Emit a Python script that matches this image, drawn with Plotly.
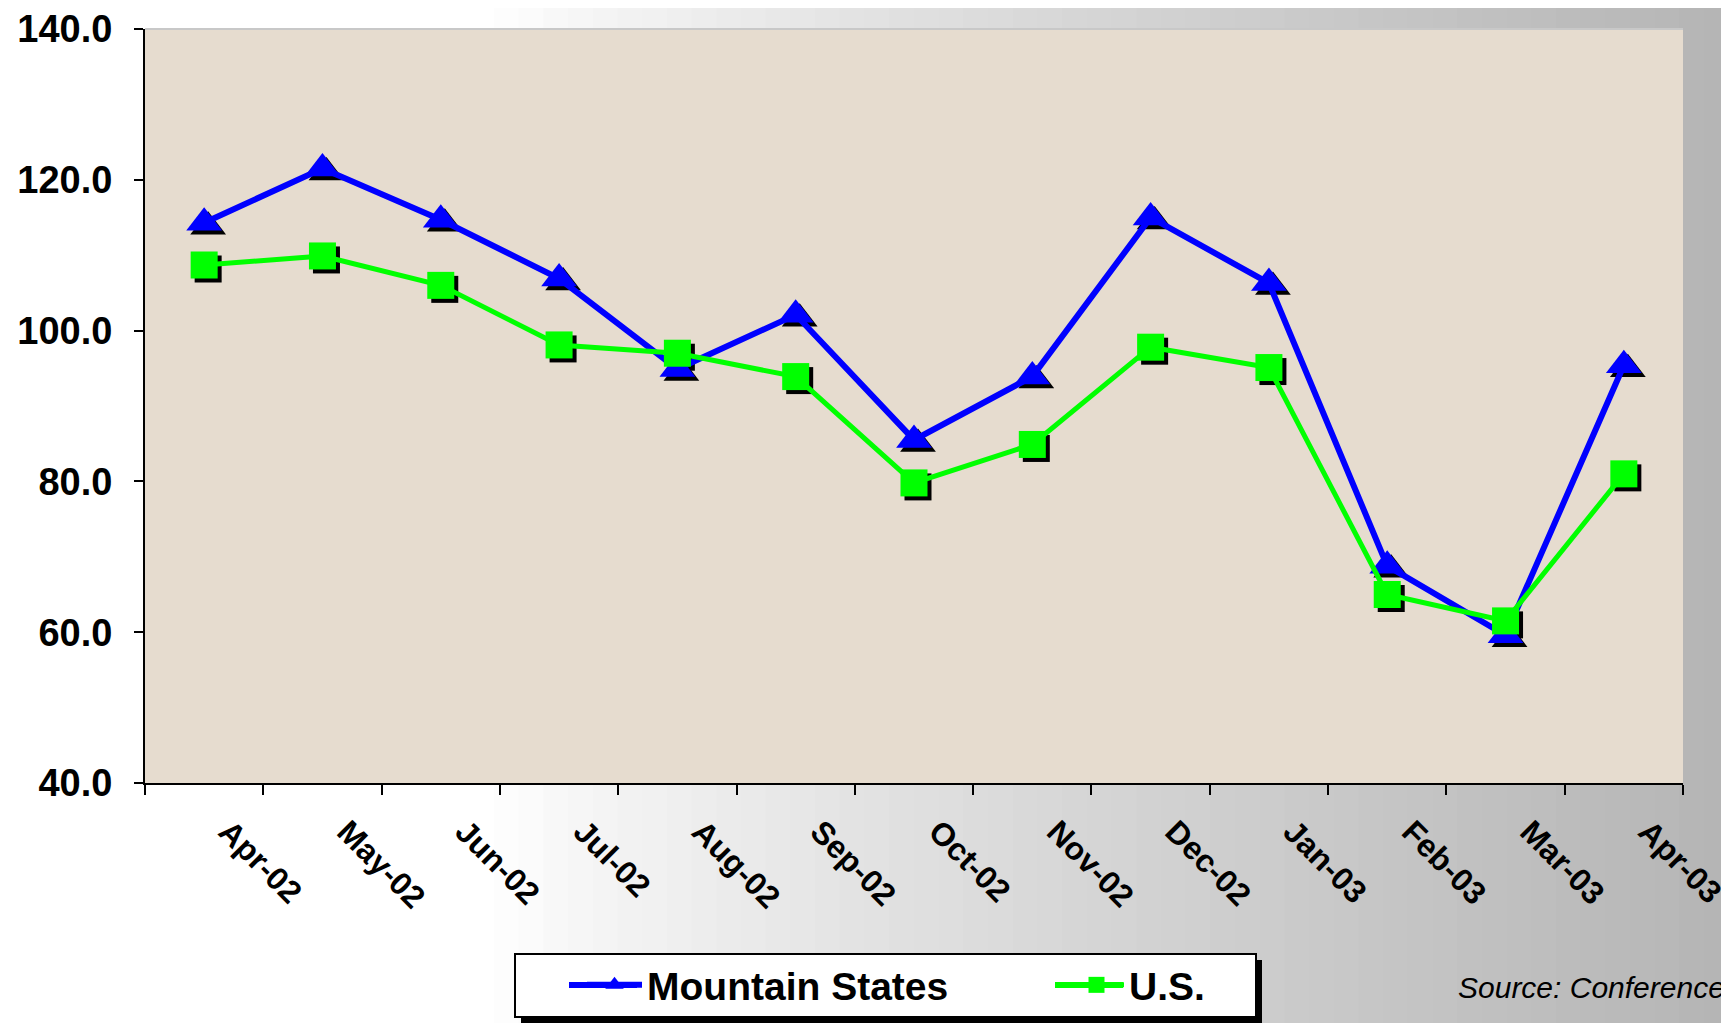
import plotly.graph_objects as go

months = ["Apr-02", "May-02", "Jun-02", "Jul-02", "Aug-02", "Sep-02", "Oct-02",
          "Nov-02", "Dec-02", "Jan-03", "Feb-03", "Mar-03", "Apr-03"]
mountain = [114.3, 121.5, 114.7, 106.9, 94.9, 102.1, 85.5, 93.9, 115.0, 106.3, 68.8, 59.6, 95.4]
us = [108.7, 109.9, 106.0, 98.1, 97.0, 93.9, 79.8, 84.9, 97.8, 95.1, 65.0, 61.5, 81.0]
y_ticks = [40, 60, 80, 100, 120, 140]
y_tick_text = ["40.0", "60.0", "80.0", "100.0", "120.0", "140.0"]

# page body has an 8px margin; the figure is sized so it ends at the window edge
OFF = 8
W, H = 1729 - OFF, 1023 - OFF
ML, MT = 145 - OFF, 29 - OFF
PR, PB = 1683 - OFF, 783 - OFF
MR, MB = W - PR, H - PB
PW, PH = PR - ML, PB - MT

FONT = "Liberation Sans, Arial, sans-serif"
BLUE = "#0000ff"
GREEN = "#00ff00"


def px_x(x):
    return (x - OFF - ML) / PW


def px_y(y):
    return (PB - (y - OFF)) / PH


fig = go.Figure()

# marker shadows (on hidden, slightly shifted axes)
n = len(months)
dx = 4.0 / (PW / n)
dy = 4.0 / (PH / 100.0)
fig.add_trace(go.Scatter(x=months, y=mountain, mode="markers", xaxis="x", yaxis="y",
                         marker=dict(symbol="triangle-up", size=31, color="black"),
                         showlegend=False, hoverinfo="skip"))
fig.add_trace(go.Scatter(x=months, y=us, mode="markers", xaxis="x", yaxis="y",
                         marker=dict(symbol="square", size=27, color="black"),
                         showlegend=False, hoverinfo="skip"))

fig.add_trace(go.Scatter(x=months, y=mountain, mode="lines+markers", name="Mountain States",
                         xaxis="x2", yaxis="y2",
                         line=dict(color=BLUE, width=6),
                         marker=dict(symbol="triangle-up", size=31, color=BLUE)))
fig.add_trace(go.Scatter(x=months, y=us, mode="lines+markers", name="U.S.",
                         xaxis="x2", yaxis="y2",
                         line=dict(color=GREEN, width=5),
                         marker=dict(symbol="square", size=27, color=GREEN)))

shapes = []
# background gradient
x_left = px_x(0)
x_right = px_x(1729)
y_bot = px_y(1030)
y_top = px_y(0)
steps = 70
start = 0.28
for i in range(steps):
    f0 = i / steps
    f1 = (i + 1) / steps
    xa = x_left + (x_right - x_left) * f0
    xb = x_left + (x_right - x_left) * f1 + 0.002
    t = max(0.0, (f0 - start) / (1 - start))
    v = int(round(255 - (255 - 180) * (t ** 0.8)))
    shapes.append(dict(type="rect", xref="paper", yref="paper", x0=xa, x1=xb, y0=y_bot, y1=y_top,
                       fillcolor=f"rgb({v},{v},{v})", line=dict(width=0), layer="below"))
# plot area
shapes.append(dict(type="rect", xref="paper", yref="paper", x0=0, x1=1, y0=0, y1=1,
                   fillcolor="#e6dccf", line=dict(width=0), layer="below"))
shapes.append(dict(type="line", xref="paper", yref="paper", x0=0, x1=1, y0=1, y1=1,
                   line=dict(color="#c8c8c8", width=2), layer="below"))
# legend box with shadow
sh = 6
shapes.append(dict(type="rect", xref="paper", yref="paper",
                   x0=px_x(515 + sh), x1=px_x(1256 + sh), y0=px_y(954 + sh), y1=px_y(1017 + sh),
                   fillcolor="black", line=dict(width=0), layer="above"))
shapes.append(dict(type="rect", xref="paper", yref="paper",
                   x0=px_x(515), x1=px_x(1256), y0=px_y(954), y1=px_y(1017),
                   fillcolor="white", line=dict(color="black", width=2), layer="above"))
# longer legend key lines (Excel-style)
for c, xa, xb in [(BLUE, 569, 637), (GREEN, 1055, 1123)]:
    shapes.append(dict(type="line", xref="paper", yref="paper",
                       x0=px_x(xa), x1=px_x(xb), y0=px_y(985), y1=px_y(985),
                       line=dict(color=c, width=6), layer="above"))

fig.update_layout(
    width=W, height=H,
    margin=dict(l=ML, r=MR, t=MT, b=MB, autoexpand=False),
    paper_bgcolor="white",
    plot_bgcolor="rgba(0,0,0,0)",
    shapes=shapes,
    font=dict(family=FONT, color="black"),
    xaxis=dict(type="category", categoryorder="array", categoryarray=months,
               range=[-0.5 - dx, n - 0.5 - dx], visible=False, fixedrange=True),
    yaxis=dict(range=[40 + dy, 140 + dy], visible=False, fixedrange=True),
    xaxis2=dict(type="category", categoryorder="array", categoryarray=months,
                overlaying="x", side="bottom", anchor="y2",
                range=[-0.5, n - 0.5], showline=True, linecolor="black", linewidth=2,
                ticks="outside", tickson="boundaries", ticklen=10, tickwidth=2, tickcolor="black",
                tickangle=45, ticklabelshift=24, ticklabelstandoff=15,
                tickfont=dict(family=FONT, size=32, color="black", weight="bold"),
                showgrid=False, zeroline=False, fixedrange=True),
    yaxis2=dict(overlaying="y", side="left", anchor="x2", range=[40, 140],
                tickvals=y_ticks, ticktext=y_tick_text,
                showline=True, linecolor="black", linewidth=2,
                ticks="outside", ticklen=9, tickwidth=2, tickcolor="black",
                ticklabelstandoff=14, ticklabeloverflow="allow",
                tickfont=dict(family=FONT, size=38, color="black", weight="bold"),
                showgrid=False, zeroline=False, fixedrange=True),
    legend=dict(orientation="h", x=px_x(582), y=px_y(985), xanchor="left", yanchor="middle",
                bgcolor="rgba(0,0,0,0)", borderwidth=0,
                font=dict(family=FONT, size=39, color="black", weight="bold"),
                entrywidth=412, entrywidthmode="pixels", itemwidth=55,
                traceorder="normal"),
    annotations=[dict(text="<i>Source: Conference</i>", xref="paper", yref="paper",
                      x=px_x(1727), y=px_y(987), xanchor="right", yanchor="middle",
                      showarrow=False, font=dict(family=FONT, size=30, color="black"))],
)

fig.write_html("out.html")
